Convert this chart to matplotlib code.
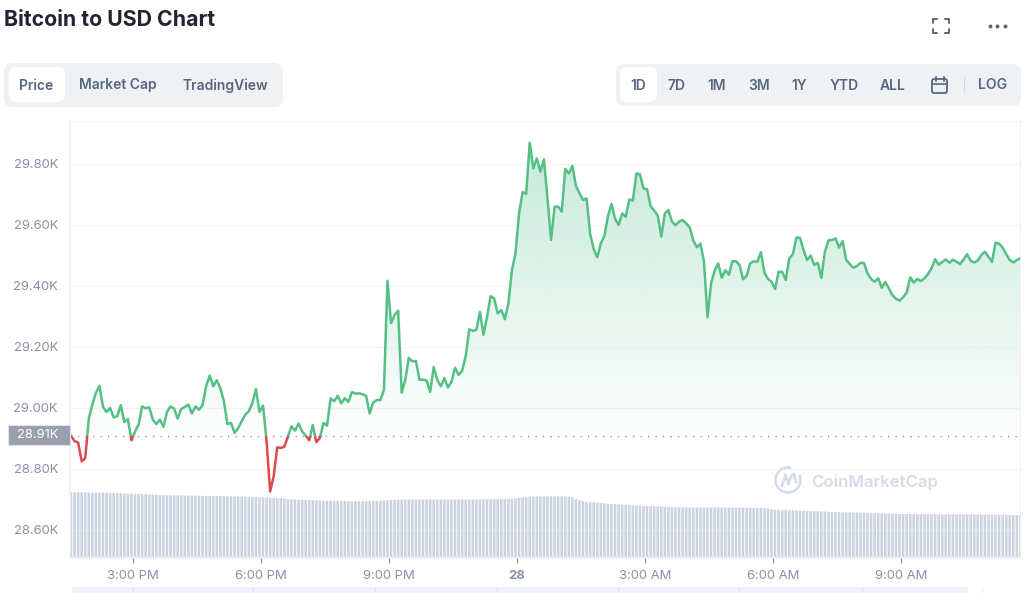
import numpy as np
import pandas as pd
import matplotlib
matplotlib.use("Agg")
import matplotlib.pyplot as plt
import matplotlib.dates as mdates
from matplotlib.patches import FancyBboxPatch, Rectangle, Arc

plt.rcParams['font.family'] = ['Inter', 'DejaVu Sans']

times = pd.date_range("2022-05-27 13:33", periods=268, freq="5min")

# price in thousands of USD, one value per 5 minutes
price = [
    28.908, 28.890, 28.886, 28.824, 28.834, 28.963, 29.010, 29.048, 29.072, 29.002, 28.986, 28.999,
    28.968, 28.972, 29.008, 28.953, 28.963, 28.893, 28.922, 28.944, 29.004, 28.998, 29.001, 28.961,
    28.946, 28.961, 28.937, 28.986, 29.004, 28.997, 28.964, 28.996, 29.002, 29.010, 28.981, 29.004,
    28.993, 29.008, 29.070, 29.105, 29.070, 29.090, 29.064, 29.021, 28.946, 28.950, 28.917, 28.933,
    28.955, 28.977, 28.988, 29.015, 29.061, 28.986, 29.007, 28.890, 28.725, 28.775, 28.870, 28.868,
    28.872, 28.906, 28.939, 28.925, 28.948, 28.922, 28.909, 28.893, 28.943, 28.887, 28.901, 28.950,
    28.941, 29.030, 29.021, 29.039, 29.014, 29.031, 29.019, 29.051, 29.046, 29.047, 29.044, 29.038,
    28.981, 29.017, 29.025, 29.025, 29.058, 29.416, 29.277, 29.304, 29.318, 29.049, 29.091, 29.163,
    29.152, 29.153, 29.091, 29.092, 29.089, 29.052, 29.133, 29.091, 29.070, 29.097, 29.066, 29.085,
    29.131, 29.107, 29.121, 29.169, 29.257, 29.252, 29.255, 29.314, 29.239, 29.298, 29.366, 29.358,
    29.309, 29.320, 29.290, 29.342, 29.451, 29.506, 29.637, 29.707, 29.701, 29.869, 29.785, 29.817,
    29.774, 29.814, 29.686, 29.550, 29.659, 29.659, 29.643, 29.783, 29.768, 29.793, 29.727, 29.703,
    29.681, 29.686, 29.569, 29.520, 29.493, 29.539, 29.563, 29.628, 29.668, 29.619, 29.599, 29.637,
    29.626, 29.683, 29.679, 29.768, 29.765, 29.719, 29.716, 29.661, 29.646, 29.630, 29.561, 29.637,
    29.648, 29.610, 29.598, 29.610, 29.615, 29.604, 29.591, 29.548, 29.526, 29.538, 29.479, 29.296,
    29.408, 29.449, 29.473, 29.426, 29.451, 29.436, 29.480, 29.480, 29.468, 29.421, 29.432, 29.473,
    29.480, 29.478, 29.510, 29.443, 29.422, 29.413, 29.389, 29.446, 29.445, 29.419, 29.490, 29.503,
    29.558, 29.557, 29.517, 29.484, 29.499, 29.468, 29.475, 29.426, 29.511, 29.549, 29.550, 29.555,
    29.525, 29.546, 29.484, 29.471, 29.459, 29.464, 29.475, 29.474, 29.440, 29.422, 29.413, 29.424,
    29.393, 29.412, 29.391, 29.369, 29.357, 29.351, 29.362, 29.377, 29.427, 29.410, 29.422, 29.415,
    29.424, 29.438, 29.457, 29.487, 29.469, 29.478, 29.486, 29.475, 29.485, 29.479, 29.471, 29.486,
    29.503, 29.482, 29.476, 29.482, 29.501, 29.511, 29.495, 29.478, 29.541, 29.538, 29.525, 29.503,
    29.484, 29.476, 29.484, 29.491,
]

# volume, no scale on the chart so arbitrary units
volume = [
    64.7, 64.7, 64.7, 64.6, 64.6, 64.5, 64.5, 64.4, 64.3, 64.2, 64.2, 64.1, 64.0, 63.9, 63.7, 63.5,
    63.3, 63.2, 63.1, 63.0, 62.8, 62.7, 62.5, 62.4, 62.2, 62.0, 62.0, 61.9, 61.9, 61.8, 61.7, 61.6,
    61.5, 61.4, 61.3, 61.3, 61.2, 61.1, 61.1, 61.0, 61.0, 60.9, 60.9, 60.8, 60.7, 60.6, 60.5, 60.4,
    60.4, 60.3, 60.2, 60.0, 59.9, 59.7, 59.6, 59.5, 59.3, 59.1, 58.9, 58.7, 58.4, 58.0, 57.7, 57.6,
    57.4, 57.3, 57.1, 57.0, 56.9, 56.7, 56.6, 56.4, 56.3, 56.2, 56.2, 56.1, 56.0, 56.0, 55.9, 55.8,
    55.8, 55.7, 55.7, 55.8, 55.9, 56.0, 56.2, 56.3, 56.5, 56.8, 57.0, 57.3, 57.4, 57.4, 57.5, 57.6,
    57.6, 57.7, 57.7, 57.7, 57.7, 57.7, 57.7, 57.7, 57.7, 57.7, 57.7, 57.7, 57.7, 57.7, 57.7, 57.7,
    57.7, 57.7, 57.7, 57.7, 57.8, 57.8, 57.8, 57.9, 57.9, 58.0, 58.0, 58.1, 58.3, 58.7, 59.1, 59.5,
    59.9, 60.3, 60.4, 60.5, 60.5, 60.6, 60.6, 60.7, 60.7, 60.7, 60.7, 60.7, 60.3, 59.8, 58.0, 57.0,
    56.0, 55.0, 54.8, 54.6, 54.4, 54.0, 53.7, 53.4, 53.0, 52.8, 52.6, 52.4, 52.2, 52.0, 51.8, 51.6,
    51.4, 51.2, 51.0, 50.9, 50.8, 50.6, 50.5, 50.3, 50.2, 50.0, 49.9, 49.7, 49.7, 49.7, 49.7, 49.7,
    49.7, 49.7, 49.6, 49.6, 49.6, 49.6, 49.5, 49.5, 49.5, 49.5, 49.4, 49.4, 49.4, 49.3, 49.3, 49.2,
    49.2, 49.1, 49.0, 49.0, 48.5, 47.7, 47.0, 47.0, 46.9, 46.8, 46.7, 46.6, 46.4, 46.3, 46.2, 46.1,
    46.0, 45.8, 45.7, 45.5, 45.4, 45.2, 45.0, 44.9, 44.8, 44.7, 44.6, 44.5, 44.4, 44.3, 44.2, 44.1,
    44.0, 43.9, 43.8, 43.7, 43.6, 43.5, 43.4, 43.3, 43.2, 43.0, 43.0, 43.0, 43.0, 42.9, 42.9, 42.9,
    42.9, 42.8, 42.8, 42.8, 42.8, 42.7, 42.7, 42.7, 42.7, 42.6, 42.6, 42.6, 42.6, 42.5, 42.5, 42.5,
    42.4, 42.4, 42.4, 42.3, 42.3, 42.3, 42.3, 42.2, 42.1, 42.0, 41.9, 41.7,
]

baseline = 28.908
price_ticks = [28.6, 28.8, 29.0, 29.2, 29.4, 29.6, 29.8]
price_labels = ["28.60K", "28.80K", "29.00K", "29.20K", "29.40K", "29.60K", "29.80K"]
time_ticks = ["2022-05-27 15:00", "2022-05-27 18:00", "2022-05-27 21:00", "2022-05-28 00:00",
              "2022-05-28 03:00", "2022-05-28 06:00", "2022-05-28 09:00"]
time_labels = ["3:00 PM", "6:00 PM", "9:00 PM", "28", "3:00 AM", "6:00 AM", "9:00 AM"]
tabs = ["Price", "Market Cap", "TradingView"]
ranges = ["1D", "7D", "1M", "3M", "1Y", "YTD", "ALL"]

GREEN = "#55c084"
RED = "#de4a4e"
GREY = "#8a91a4"
SLATE = "#58667e"
PANEL = "#eff2f5"

W, H = 1024, 593
fig = plt.figure(figsize=(W / 100, H / 100), dpi=100, facecolor="white")
ax = fig.add_axes([70 / W, 1 - 558 / H, 950 / W, 437 / H])

x = mdates.date2num(times)
y = np.array(price)
step = x[1] - x[0]
xmin = x[0] - 1 / 3.556 * step
xmax = xmin + 950 / 3.556 * step
ymin, ymax = 28.507, 29.940

# volume sits behind the price
vol_ax = ax.twinx()
bars = vol_ax.bar(x, volume, width=step * 0.72, color="#cbd2e2", linewidth=0)
for b in bars:
    b.set_snap(False)
vol_ax.set_ylim(-1, 436)
vol_ax.set_yticks([])
for s in vol_ax.spines.values():
    s.set_visible(False)
ax.set_zorder(vol_ax.get_zorder() + 1)
ax.patch.set_visible(False)

# gradient under the green part
poly = ax.fill_between(x, np.maximum(y, baseline), baseline, facecolor="none", linewidth=0)
grad = np.zeros((256, 1, 4))
grad[..., :3] = matplotlib.colors.to_rgb("#35b27a")
grad[:, 0, 3] = np.linspace(0.28, 0.01, 256)
im = ax.imshow(grad, extent=[xmin, xmax, baseline, y.max()], aspect="auto", origin="upper", zorder=1)
im.set_clip_path(poly.get_paths()[0], transform=ax.transData)

ax.axhline(baseline, color="#7d8496", lw=0.9, dashes=(1, 5), zorder=2)

up, = ax.plot(x, y, color=GREEN, lw=1.8, zorder=3)
up.set_clip_path(Rectangle((xmin, baseline), xmax - xmin, ymax - baseline, transform=ax.transData))
down, = ax.plot(x, y, color=RED, lw=1.8, zorder=3)
down.set_clip_path(Rectangle((xmin, ymin), xmax - xmin, baseline - ymin, transform=ax.transData))

ax.set_xlim(xmin, xmax)
ax.set_ylim(ymin, ymax)
ax.set_yticks(price_ticks)
ax.set_yticklabels(price_labels)
ax.set_xticks(mdates.date2num(pd.to_datetime(time_ticks)))
ax.set_xticklabels(time_labels)
ax.get_xticklabels()[3].set_fontweight("bold")
ax.tick_params(axis="y", length=0, pad=8.6, labelsize=9.4, labelcolor=GREY)
ax.tick_params(axis="x", length=3.5, width=0.9, color="#8f96a8", pad=5.3, labelsize=9.4, labelcolor=GREY)
ax.grid(axis="y", color="#e8ebf0", lw=1, alpha=0.6)
ax.set_axisbelow(False)
for name, s in ax.spines.items():
    s.set_color(PANEL)
    s.set_linewidth(1.3 if name in ("left", "bottom") else 0.8)

# everything around the chart, in screen pixels
ui = fig.add_axes([0, 0, 1, 1], zorder=5)
ui.set_xlim(0, W)
ui.set_ylim(H, 0)
ui.axis("off")


def box(x0, y0, x1, y1, r, color):
    ui.add_patch(FancyBboxPatch((x0 + r, y0 + r), x1 - x0 - 2 * r, y1 - y0 - 2 * r,
                                boxstyle="round,pad=%s,rounding_size=%s" % (r, r),
                                fc=color, ec="none"))


ui.text(4, 19.5, "Bitcoin to USD Chart", fontsize=15.3, fontweight="bold", color="#222531", va="center")

box(4, 63, 283, 107, 9, PANEL)
box(9, 67, 65, 102, 7, "white")
for label, cx in zip(tabs, [36.5, 118, 225]):
    ui.text(cx, 85.5, label, fontsize=10, fontweight="semibold", color=SLATE, ha="center", va="center")

box(616, 64, 1021, 106, 8, PANEL)
box(620, 67, 657, 102, 7, "white")
for label, cx in zip(ranges, [638, 677, 717, 759, 799, 844, 893]):
    ui.text(cx, 85.5, label, fontsize=10, fontweight="semibold", color=SLATE, ha="center", va="center")
ui.text(993, 85, "LOG", fontsize=10, fontweight="semibold", color=SLATE, ha="center", va="center")
ui.plot([964, 964], [77, 92], color="#d5dae2", lw=0.8)

# calendar icon
ui.add_patch(FancyBboxPatch((932, 79), 15, 14, boxstyle="round,pad=0,rounding_size=2",
                            fc="none", ec=SLATE, lw=1.3))
ui.plot([932, 947], [84, 84], color=SLATE, lw=1.2)
ui.plot([935.5, 935.5], [77, 80.5], color=SLATE, lw=1.2)
ui.plot([943.5, 943.5], [77, 80.5], color=SLATE, lw=1.2)

# fullscreen icon and menu dots
for cx, cy, dx, dy in [(933, 19, 1, 1), (949, 19, -1, 1), (933, 33, 1, -1), (949, 33, -1, -1)]:
    ui.plot([cx + 4 * dx, cx, cx], [cy, cy, cy + 4 * dy], color=SLATE, lw=1.4, solid_capstyle="round")
ui.scatter([990, 997, 1004.5], [26, 26, 26], s=8, color=SLATE, linewidths=0)

# price tag on the baseline
ui.add_patch(Rectangle((8, 424.5), 61.5, 20.5, fc="#9a9fad", ec="#dfe2e8", lw=0.8))
ui.text(37.5, 435.3, "28.91K", fontsize=9.4, color="white", ha="center", va="center")

# watermark
WM = "#d6dbe8"
ui.add_patch(Arc((788, 480), 25, 25, theta1=-25, theta2=285, ec=WM, lw=1.9))
ui.plot([782, 785.5, 788.5, 791, 794, 796], [486, 475, 484, 476, 474, 482], color=WM, lw=1.9)
ui.text(811, 482, "CoinMarketCap", fontsize=12.1, fontweight="semibold", color=WM, va="center")

# range navigator strip cut off by the image edge
ui.add_patch(Rectangle((72, 587), 896, 6, fc="#eff2fb", ec="none"))
for px in [133, 253, 375, 497, 618, 739, 862]:
    ui.plot([px, px], [587, 593], color="#dfe3f0", lw=0.8)
ui.plot([982, 982], [587, 593], color="#eceef2", lw=0.8)

fig.savefig("out.png", dpi=100)
